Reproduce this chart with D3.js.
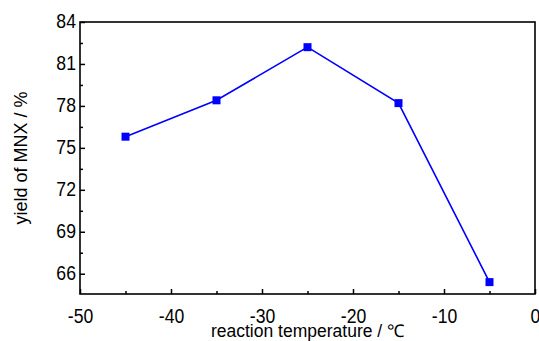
<!DOCTYPE html>
<html>
<head>
<meta charset="utf-8">
<script src="https://cdn.jsdelivr.net/npm/d3@7"></script>
<style>
    body { margin: 0; background: #fff; }
    svg { display: block; font-family: "Liberation Sans", Arial, sans-serif; }
    .axis .domain { display: none; }
    .axis line { stroke: #000; stroke-width: 1.5; }
    .axis text { fill: #000; font-size: 21px; }
    .frame { fill: none; stroke: #000; stroke-width: 1.6; }
    .yield-line { fill: none; stroke: #0000ff; stroke-width: 1.6; }
    .yield-dot { fill: #0000ff; }
</style>
</head>
<body>
<div id="chart"></div>
<script>
// chart data
var temperatures = [-45, -35, -25, -15, -5];
var yields = [75.8, 78.4, 82.2, 78.2, 65.4];
var xTicks = [-50, -40, -30, -20, -10, 0];
var xMinorTicks = [-45, -35, -25, -15, -5];
var yTicks = [66, 69, 72, 75, 78, 81, 84];
var yMinorTicks = [67.5, 70.5, 73.5, 76.5, 79.5, 82.5];

var svgWidth = 539, svgHeight = 341;
var margin = {top: 22, right: 4, bottom: 47, left: 80};
var width = svgWidth - margin.left - margin.right;
var height = svgHeight - margin.top - margin.bottom;

var svg = d3.select("#chart")
    .append("svg")
    .attr("width", svgWidth)
    .attr("height", svgHeight);

var g = svg.append("g")
    .attr("transform", "translate(" + margin.left + "," + margin.top + ")");

var x = d3.scaleLinear().domain([-50, 0]).range([0, width]);
var y = d3.scaleLinear().domain([64.55, 84]).range([height, 0]);

var squeeze = 0.84; // tick digits in the original are narrow
var plainNumber = function (d) { return String(d); }; // keep the ascii hyphen

// X axis, ticks pointing inward
var xAxis = g.append("g")
    .attr("class", "axis x-axis")
    .attr("transform", "translate(0," + height + ")")
    .call(d3.axisBottom(x).tickValues(xTicks).tickSize(-5).tickPadding(14).tickFormat(plainNumber));
xAxis.selectAll("text")
    .attr("transform", "scale(" + squeeze + ",1)");

g.append("g")
    .attr("class", "axis x-minor")
    .attr("transform", "translate(0," + height + ")")
    .call(d3.axisBottom(x).tickValues(xMinorTicks).tickSize(-3).tickFormat(""));

// Y axis
var yAxis = g.append("g")
    .attr("class", "axis y-axis")
    .call(d3.axisLeft(y).tickValues(yTicks).tickSize(-5).tickPadding(4.8).tickFormat(plainNumber));
yAxis.selectAll("text")
    .attr("transform", "scale(" + squeeze + ",1)")
    .attr("dy", "0.27em");

g.append("g")
    .attr("class", "axis y-minor")
    .call(d3.axisLeft(y).tickValues(yMinorTicks).tickSize(-3).tickFormat(""));

// frame
g.append("rect")
    .attr("class", "frame")
    .attr("x", 0)
    .attr("y", 0)
    .attr("width", width)
    .attr("height", height);

// axis titles
svg.append("text")
    .attr("x", margin.left + width / 2)
    .attr("y", 337)
    .attr("text-anchor", "middle")
    .attr("font-size", "17.5px")
    .attr("fill", "#000")
    .text("reaction temperature / \u2103");

svg.append("text")
    .attr("transform", "translate(27," + (margin.top + height / 2) + ") rotate(-90)")
    .attr("text-anchor", "middle")
    .attr("font-size", "18px")
    .attr("fill", "#000")
    .text("yield of MNX / %");

// line + markers
var points = temperatures.map(function (t, i) {
    return {x: t, y: yields[i]};
});

var line = d3.line()
    .x(function (d) { return x(d.x); })
    .y(function (d) { return y(d.y); });

g.append("path")
    .datum(points)
    .attr("class", "yield-line")
    .attr("d", line);

var markerSize = 8;
g.selectAll(".yield-dot")
    .data(points)
    .enter()
    .append("rect")
    .attr("class", "yield-dot")
    .attr("x", function (d) { return x(d.x) - markerSize / 2; })
    .attr("y", function (d) { return y(d.y) - markerSize / 2; })
    .attr("width", markerSize)
    .attr("height", markerSize);
</script>
</body>
</html>
